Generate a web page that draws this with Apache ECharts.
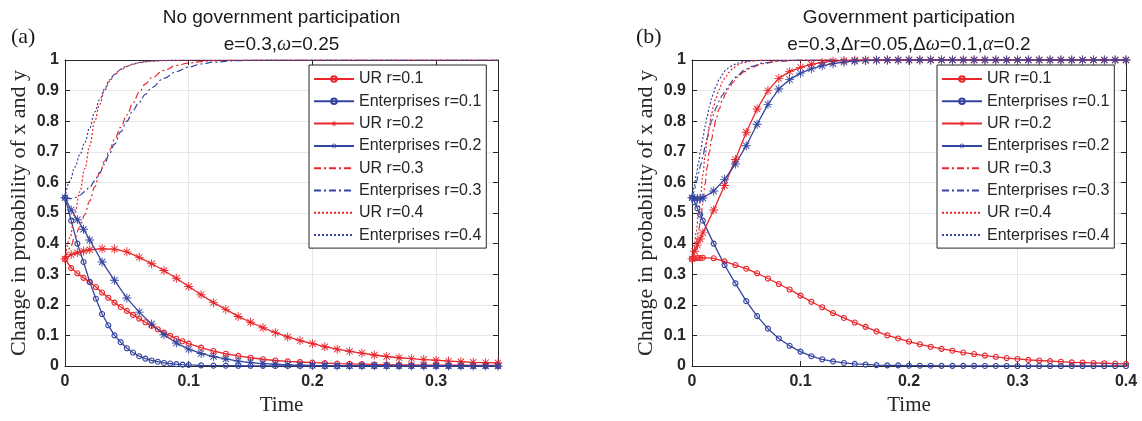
<!DOCTYPE html>
<html>
<head>
<meta charset="utf-8">
<script src="https://cdn.jsdelivr.net/npm/echarts@6/dist/echarts.min.js"></script>
<style>
  html, body { margin: 0; padding: 0; background: #fff; }
  #main { width: 1142px; height: 421px; }
</style>
</head>
<body>
<div id="main"></div>
<script>
// ---- data: panel (a), no government participation ----
var tCircL = [0, 0.005, 0.01, 0.015, 0.02, 0.025, 0.03, 0.035, 0.04, 0.045, 0.05, 0.055, 0.06, 0.065, 0.07, 0.075, 0.08, 0.085, 0.09, 0.095, 0.1,
  0.11, 0.12, 0.13, 0.14, 0.15, 0.16, 0.17, 0.18, 0.19, 0.2, 0.21, 0.22, 0.23, 0.24, 0.25, 0.26, 0.27, 0.28, 0.29, 0.3, 0.31, 0.32, 0.33, 0.34, 0.35];
var urL1 = [0.35, 0.32, 0.303, 0.288, 0.274, 0.258, 0.24, 0.223, 0.207, 0.193, 0.18, 0.167, 0.155, 0.143, 0.131, 0.12, 0.109, 0.099, 0.089, 0.081, 0.073,
  0.06, 0.049, 0.04, 0.033, 0.027, 0.022, 0.018, 0.015, 0.013, 0.011, 0.0095, 0.008, 0.007, 0.006, 0.005, 0.0045, 0.004, 0.0035, 0.003, 0.003, 0.0025, 0.0025, 0.002, 0.002, 0.002];
var entL1 = [0.55, 0.475, 0.4, 0.34, 0.275, 0.22, 0.17, 0.133, 0.1, 0.078, 0.058, 0.044, 0.032, 0.024, 0.018, 0.014, 0.01, 0.008, 0.006, 0.0045, 0.0035,
  0.002, 0.0012, 0.001, 0.0008, 0.0006, 0.0005, 0.0004, 0.0003, 0.0002, 0.0002, 0.0001, 0.0001, 0.0001, 0.0001, 0.0001, 0, 0, 0, 0, 0, 0, 0, 0, 0, 0];

var tStarL = [0, 0.005, 0.01, 0.015, 0.02, 0.03, 0.04, 0.05, 0.06, 0.07, 0.08, 0.09, 0.1, 0.11, 0.12, 0.13, 0.14, 0.15, 0.16, 0.17, 0.18, 0.19, 0.2,
  0.21, 0.22, 0.23, 0.24, 0.25, 0.26, 0.27, 0.28, 0.29, 0.3, 0.31, 0.32, 0.33, 0.34, 0.35];
var urL2 = [0.35, 0.364, 0.37, 0.376, 0.38, 0.383, 0.382, 0.373, 0.355, 0.334, 0.312, 0.287, 0.26, 0.233, 0.207, 0.185, 0.162, 0.143, 0.125, 0.109, 0.095, 0.083, 0.073,
  0.063, 0.055, 0.048, 0.042, 0.036, 0.031, 0.027, 0.024, 0.021, 0.019, 0.016, 0.014, 0.012, 0.011, 0.01];
var entL2 = [0.55, 0.51, 0.478, 0.447, 0.412, 0.34, 0.28, 0.222, 0.176, 0.137, 0.102, 0.075, 0.055, 0.041, 0.031, 0.023, 0.016, 0.011, 0.008, 0.006, 0.004, 0.003, 0.002,
  0.0015, 0.001, 0.001, 0.001, 0.0008, 0.0006, 0.0005, 0.0004, 0.0003, 0.0003, 0.0002, 0.0002, 0.0002, 0.0001, 0.0001];

var tLineL = [0, 0.004, 0.008, 0.012, 0.016, 0.02, 0.024, 0.028, 0.032, 0.036, 0.04, 0.045, 0.05, 0.055, 0.06, 0.065, 0.07, 0.08, 0.09, 0.1, 0.11, 0.12, 0.14, 0.16, 0.2, 0.35];
var urL3 = [0.35, 0.385, 0.42, 0.455, 0.495, 0.54, 0.585, 0.63, 0.67, 0.705, 0.74, 0.78, 0.82, 0.86, 0.895, 0.922, 0.942, 0.966, 0.982, 0.99, 0.995, 0.998, 0.999, 1, 1, 1];
var entL3 = [0.55, 0.547, 0.55, 0.558, 0.57, 0.585, 0.605, 0.632, 0.66, 0.695, 0.725, 0.765, 0.8, 0.835, 0.862, 0.888, 0.91, 0.94, 0.962, 0.977, 0.987, 0.993, 0.998, 1, 1, 1];
var urL4 = [0.35, 0.42, 0.5, 0.57, 0.645, 0.72, 0.8, 0.855, 0.9, 0.93, 0.952, 0.968, 0.979, 0.986, 0.991, 0.994, 0.996, 0.998, 0.999, 1, 1, 1, 1, 1, 1, 1];
var entL4 = [0.55, 0.605, 0.65, 0.69, 0.73, 0.778, 0.83, 0.87, 0.905, 0.935, 0.953, 0.97, 0.98, 0.987, 0.992, 0.995, 0.997, 0.999, 1, 1, 1, 1, 1, 1, 1, 1];

// ---- data: panel (b), government participation ----
var tR = [0, 0.0025, 0.005, 0.0075, 0.01, 0.02, 0.03, 0.04, 0.05, 0.06, 0.07, 0.08, 0.09, 0.1, 0.11, 0.12, 0.13, 0.14, 0.15, 0.16, 0.17, 0.18, 0.19, 0.2,
  0.21, 0.22, 0.23, 0.24, 0.25, 0.26, 0.27, 0.28, 0.29, 0.3, 0.31, 0.32, 0.33, 0.34, 0.35, 0.36, 0.37, 0.38, 0.39, 0.4];
var urR1 = [0.35, 0.352, 0.353, 0.353, 0.354, 0.352, 0.342, 0.33, 0.318, 0.303, 0.286, 0.268, 0.25, 0.23, 0.21, 0.192, 0.173, 0.157, 0.142, 0.128, 0.113, 0.1, 0.09, 0.08,
  0.071, 0.063, 0.056, 0.05, 0.044, 0.039, 0.034, 0.03, 0.026, 0.023, 0.02, 0.018, 0.016, 0.014, 0.012, 0.011, 0.01, 0.009, 0.008, 0.007];
var entR1 = [0.55, 0.535, 0.515, 0.495, 0.475, 0.4, 0.33, 0.27, 0.212, 0.163, 0.122, 0.09, 0.066, 0.047, 0.032, 0.022, 0.015, 0.01, 0.007, 0.005, 0.003, 0.002, 0.002, 0.001,
  0.001, 0.001, 0.0005, 0.0005, 0.0003, 0.0003, 0.0002, 0.0002, 0.0001, 0.0001, 0, 0, 0, 0, 0, 0, 0, 0, 0, 0];
var urR2 = [0.35, 0.375, 0.395, 0.415, 0.435, 0.51, 0.59, 0.675, 0.764, 0.84, 0.9, 0.94, 0.962, 0.976, 0.986, 0.992, 0.996, 0.998, 0.999, 1, 1, 1, 1, 1,
  1, 1, 1, 1, 1, 1, 1, 1, 1, 1, 1, 1, 1, 1, 1, 1, 1, 1, 1, 1];
var entR2 = [0.55, 0.548, 0.547, 0.547, 0.549, 0.572, 0.61, 0.66, 0.72, 0.79, 0.855, 0.905, 0.936, 0.957, 0.971, 0.981, 0.988, 0.993, 0.996, 0.998, 0.999, 1, 1, 1,
  1, 1, 1, 1, 1, 1, 1, 1, 1, 1, 1, 1, 1, 1, 1, 1, 1, 1, 1, 1];

var tLineR = [0, 0.002, 0.004, 0.006, 0.008, 0.01, 0.012, 0.014, 0.016, 0.018, 0.02, 0.022, 0.025, 0.028, 0.031, 0.034, 0.038, 0.042, 0.048, 0.055, 0.065, 0.08, 0.1, 0.4];
var urR3 = [0.35, 0.375, 0.405, 0.44, 0.48, 0.53, 0.595, 0.65, 0.7, 0.74, 0.775, 0.805, 0.84, 0.868, 0.89, 0.908, 0.928, 0.944, 0.962, 0.976, 0.988, 0.996, 1, 1];
var entR3 = [0.55, 0.57, 0.6, 0.63, 0.657, 0.685, 0.715, 0.745, 0.775, 0.8, 0.822, 0.843, 0.866, 0.885, 0.902, 0.918, 0.935, 0.95, 0.966, 0.979, 0.99, 0.997, 1, 1];
var urR4 = [0.35, 0.39, 0.44, 0.5, 0.56, 0.625, 0.685, 0.74, 0.785, 0.825, 0.85, 0.875, 0.903, 0.928, 0.946, 0.96, 0.973, 0.984, 0.992, 0.997, 0.999, 1, 1, 1];
var entR4 = [0.55, 0.585, 0.625, 0.665, 0.705, 0.745, 0.783, 0.817, 0.847, 0.873, 0.895, 0.913, 0.936, 0.953, 0.966, 0.975, 0.984, 0.99, 0.995, 0.998, 1, 1, 1, 1];

var seriesNames = ['UR r=0.1', 'Enterprises r=0.1', 'UR r=0.2', 'Enterprises r=0.2', 'UR r=0.3', 'Enterprises r=0.3', 'UR r=0.4', 'Enterprises r=0.4'];

var RED = '#e8262b';
var BLUE = '#34449f';
var INK = '#262626';
// asterisk marker (like matlab '*')
var STAR = 'path://M9 0H11V20H9Z M0 9H20V11H0Z M3.7 2.3L17.7 16.3L16.3 17.7L2.3 3.7Z M16.3 2.3L17.7 3.7L3.7 17.7L2.3 16.3Z';

function pairs(t, v) {
  return t.map(function (x, i) { return [x, v[i]]; });
}

function makeSeries(name, color, kind, t, v, axis) {
  var s = {
    name: name,
    type: 'line',
    xAxisIndex: axis,
    yAxisIndex: axis,
    data: pairs(t, v),
    animation: false,
    lineStyle: { color: color, width: 1.3 },
    itemStyle: { color: color },
    emphasis: { disabled: true }
  };
  if (kind == 'circle') {
    s.symbol = 'circle';
    s.symbolSize = 5;
    s.itemStyle = { color: 'rgba(255,255,255,0)', borderColor: color, borderWidth: 1.1 };
  } else if (kind == 'star') {
    s.symbol = STAR;
    s.symbolSize = 9;
  } else {
    s.symbol = 'none';
    s.smooth = 0.4;
    s.smoothMonotone = 'x';
    s.lineStyle.width = 1.2;
    s.lineStyle.type = kind == 'dashdot' ? [7, 3, 2, 3] : [2, 2];
  }
  return s;
}

function bottomAxis(grid, max) {
  return {
    type: 'value', gridIndex: grid, min: 0, max: max, interval: 0.1,
    name: 'Time', nameLocation: 'middle', nameGap: 29,
    nameTextStyle: { fontFamily: 'Liberation Serif', fontSize: 21, color: INK },
    axisLine: { onZero: false, lineStyle: { color: INK } },
    axisTick: { inside: true, length: 5, lineStyle: { color: INK } },
    axisLabel: { fontFamily: 'Liberation Sans', fontWeight: 'bold', fontSize: 16, color: INK, margin: 8, showMaxLabel: max == 0.4 },
    splitLine: { show: true, lineStyle: { color: '#e6e6e6' } }
  };
}

function leftAxis(grid) {
  return {
    type: 'value', gridIndex: grid, min: 0, max: 1, interval: 0.1,
    name: 'Change in probability of x and y', nameLocation: 'middle', nameGap: 35,
    nameTextStyle: { fontFamily: 'Liberation Serif', fontSize: 22, color: INK },
    axisLine: { show: true, onZero: false, lineStyle: { color: INK } },
    axisTick: { show: true, inside: true, length: 5, lineStyle: { color: INK } },
    axisLabel: { fontFamily: 'Liberation Sans', fontWeight: 'bold', fontSize: 16, color: INK, margin: 6 },
    splitLine: { show: true, lineStyle: { color: '#e6e6e6' } }
  };
}

// box axes on top / right, ticks only
function topAxis(grid, max) {
  return {
    type: 'value', gridIndex: grid, position: 'top', min: 0, max: max, interval: 0.1,
    axisLine: { onZero: false, lineStyle: { color: INK } },
    axisTick: { inside: true, length: 5, lineStyle: { color: INK } },
    axisLabel: { show: false }, splitLine: { show: false }
  };
}

function rightAxis(grid) {
  return {
    type: 'value', gridIndex: grid, position: 'right', min: 0, max: 1, interval: 0.1,
    axisLine: { show: true, onZero: false, lineStyle: { color: INK } },
    axisTick: { show: true, inside: true, length: 5, lineStyle: { color: INK } },
    axisLabel: { show: false }, splitLine: { show: false }
  };
}

// legend entries; the plain-line ones get no marker in the icon
var legendItems = seriesNames.map(function (n, i) {
  return i < 4 ? { name: n } : { name: n, itemStyle: { opacity: 0 } };
});

function legendBox(left) {
  return {
    data: legendItems, orient: 'vertical', left: left, top: 65,
    backgroundColor: '#fff', borderColor: INK, borderWidth: 1,
    padding: [6, 5, 5, 4], itemGap: 6.3, itemWidth: 40, itemHeight: 7,
    textStyle: { fontFamily: 'Liberation Sans', fontSize: 16, color: INK },
    selectedMode: false
  };
}

var titleRich = {
  a: { fontFamily: 'Liberation Sans', fontSize: 19, fontWeight: 'normal', color: '#1a1a1a', lineHeight: 27 },
  g: { fontFamily: 'Liberation Serif', fontStyle: 'italic', fontWeight: 'normal', fontSize: 20, color: '#1a1a1a', lineHeight: 27 }
};

var series = [
  makeSeries(seriesNames[0], RED, 'circle', tCircL, urL1, 0),
  makeSeries(seriesNames[1], BLUE, 'circle', tCircL, entL1, 0),
  makeSeries(seriesNames[2], RED, 'star', tStarL, urL2, 0),
  makeSeries(seriesNames[3], BLUE, 'star', tStarL, entL2, 0),
  makeSeries(seriesNames[4], RED, 'dashdot', tLineL, urL3, 0),
  makeSeries(seriesNames[5], BLUE, 'dashdot', tLineL, entL3, 0),
  makeSeries(seriesNames[6], RED, 'dot', tLineL, urL4, 0),
  makeSeries(seriesNames[7], BLUE, 'dot', tLineL, entL4, 0),

  makeSeries(seriesNames[0], RED, 'circle', tR, urR1, 1),
  makeSeries(seriesNames[1], BLUE, 'circle', tR, entR1, 1),
  makeSeries(seriesNames[2], RED, 'star', tR, urR2, 1),
  makeSeries(seriesNames[3], BLUE, 'star', tR, entR2, 1),
  makeSeries(seriesNames[4], RED, 'dashdot', tLineR, urR3, 1),
  makeSeries(seriesNames[5], BLUE, 'dashdot', tLineR, entR3, 1),
  makeSeries(seriesNames[6], RED, 'dot', tLineR, urR4, 1),
  makeSeries(seriesNames[7], BLUE, 'dot', tLineR, entR4, 1)
];

var chart = echarts.init(document.getElementById('main'), null, { renderer: 'canvas' });
var option = {
  backgroundColor: '#fff',
  animation: false,
  title: [
    {
      left: 281.5, top: 4, textAlign: 'center', padding: 0,
      text: '{a|No government participation}\n{a|e=0.3,}{g|ω}{a|=0.25}',
      textStyle: { fontWeight: 'normal', rich: titleRich }
    },
    {
      left: 909, top: 4, textAlign: 'center', padding: 0,
      text: '{a|Government participation}\n{a|e=0.3,Δr=0.05,Δ}{g|ω}{a|=0.1,}{g|α}{a|=0.2}',
      textStyle: { fontWeight: 'normal', rich: titleRich }
    }
  ],
  graphic: [
    { type: 'text', left: 11, top: 26, style: { text: '(a)', font: '22px "Liberation Serif"', fill: '#1a1a1a' } },
    { type: 'text', left: 636, top: 26, style: { text: '(b)', font: '22px "Liberation Serif"', fill: '#1a1a1a' } }
  ],
  grid: [
    { left: 65, top: 60, width: 433, height: 307 },
    { left: 692, top: 60, width: 434, height: 308 }
  ],
  legend: [legendBox(309), legendBox(937)],
  xAxis: [bottomAxis(0, 0.35), bottomAxis(1, 0.4), topAxis(0, 0.35), topAxis(1, 0.4)],
  yAxis: [leftAxis(0), leftAxis(1), rightAxis(0), rightAxis(1)],
  series: series
};
chart.setOption(option);
window.addEventListener('resize', function () {
  chart.resize();
});
</script>
</body>
</html>
